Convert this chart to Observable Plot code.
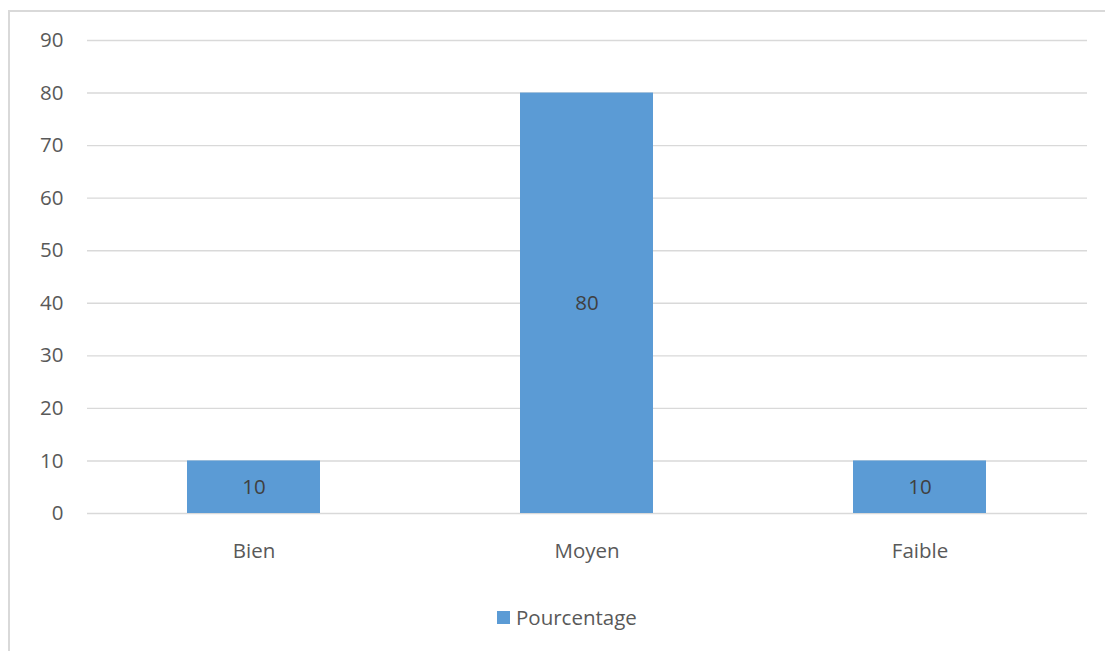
<!DOCTYPE html>
<html>
<head>
<meta charset="utf-8">
<script src="https://cdn.jsdelivr.net/npm/d3@7"></script>
<script src="https://cdn.jsdelivr.net/npm/@observablehq/plot@0.6"></script>
<style>
  html, body { margin: 0; padding: 0; background: #fff; }
  body { width: 1105px; height: 651px; overflow: hidden; position: relative; font-family: "Open Sans", sans-serif; }
  #frame { position: absolute; left: 8px; top: 10px; width: 1120px; height: 670px; border: 2px solid #d9d9d9; box-sizing: border-box; }
  #chart { position: absolute; left: 0; top: 0; }
  #legend { position: absolute; left: 497px; top: 603px; display: flex; align-items: center; font-size: 20.5px; color: #595959; white-space: nowrap; }
  #legend .sw { width: 13px; height: 13px; background: #5b9bd5; margin-right: 6px; }
</style>
</head>
<body>
<div id="frame"></div>
<div id="chart"></div>
<div id="legend"><span class="sw"></span><span>Pourcentage</span></div>
<script>
// Categories and their percentage values
const categories = ["Bien", "Moyen", "Faible"];
const values = [10, 80, 10];
const yTicks = [0, 10, 20, 30, 40, 50, 60, 70, 80, 90];

const data = categories.map((c, i) => ({ category: c, value: values[i] }));

const FS = 20.5;

const chart = Plot.plot({
  width: 1105,
  height: 580,
  marginLeft: 87,
  marginRight: 18,
  marginTop: 40,
  marginBottom: 67,
  style: { fontFamily: "Open Sans, sans-serif", fontSize: FS + "px", color: "#595959", background: "transparent" },
  x: { domain: categories, paddingInner: 0.6, paddingOuter: 0.3, label: null },
  y: { domain: [0, 90], label: null },
  marks: [
    Plot.ruleY(yTicks, { stroke: "#d9d9d9", strokeWidth: 1.4 }),
    Plot.barY(data, { x: "category", y: "value", fill: "#5b9bd5" }),
    Plot.text(data, {
      x: "category",
      y: (d) => d.value / 2,
      text: (d) => String(d.value),
      fill: "#404040",
      fontSize: FS
    }),
    Plot.axisY(yTicks, { tickSize: 0, tickPadding: 24, fontSize: FS, fill: "#595959" }),
    Plot.axisX({ tickSize: 0, tickPadding: 30, fontSize: FS, fill: "#595959" })
  ]
});
document.getElementById("chart").appendChild(chart);
</script>
</body>
</html>
